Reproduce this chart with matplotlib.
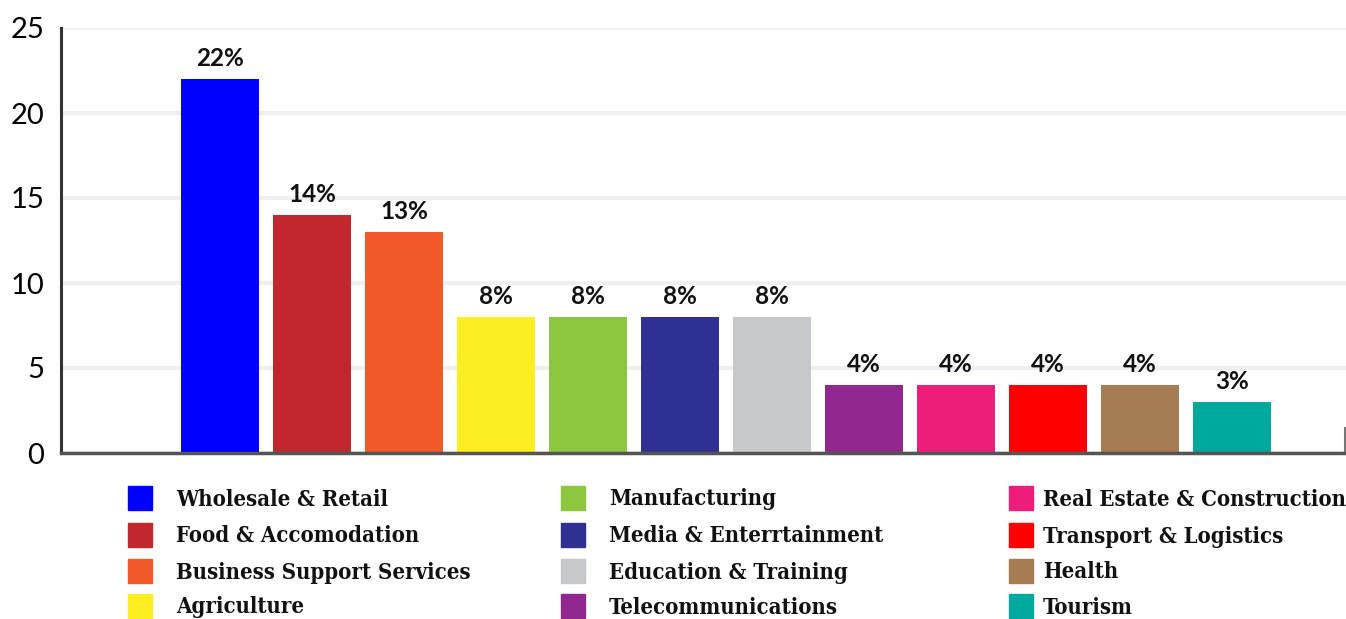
import matplotlib.pyplot as plt
from matplotlib.patches import Rectangle

sectors = ["Wholesale & Retail", "Food & Accomodation", "Business Support Services",
           "Agriculture", "Manufacturing", "Media & Enterrtainment",
           "Education & Training", "Telecommunications", "Real Estate & Construction",
           "Transport & Logistics", "Health", "Tourism"]
shares = [22, 14, 13, 8, 8, 8, 8, 4, 4, 4, 4, 3]
colors = ["#0000FF", "#C1272D", "#F15A29", "#FCEE21", "#8DC63F", "#2E3192",
          "#C7C8CA", "#92278F", "#ED1E79", "#FF0000", "#A67C52", "#00A99D"]
yticks = [0, 5, 10, 15, 20, 25]

fig = plt.figure(figsize=(13.46, 6.19), dpi=100)
ax = fig.add_axes([61 / 1346, 166 / 619, 1 - 61 / 1346, 425 / 619])

x = list(range(len(shares)))
bars = ax.bar(x, shares, width=0.848, color=colors, zorder=3)
for b, v in zip(bars, shares):
    ax.text(b.get_x() + b.get_width() / 2, v + 0.55, f"{v}%", ha="center", va="bottom",
            fontsize=17.5, fontweight="bold", family="Lato", color="#111111")

ax.set_xlim(-1.728, 12.24)
ax.set_ylim(0, 25)
ax.set_yticks(yticks)
ax.set_yticklabels([str(t) for t in yticks], family="Lato", fontsize=21)
ax.tick_params(axis="y", length=0, pad=12)
ax.set_xticks([])
ax.grid(axis="y", color="#F0F0F0", linewidth=3, zorder=0)

for side in ["top", "right"]:
    ax.spines[side].set_visible(False)
ax.spines["left"].set_color("#333333")
ax.spines["left"].set_linewidth(2.2)
ax.spines["bottom"].set_color("#555555")
ax.spines["bottom"].set_linewidth(2.5)
ax.spines["bottom"].set_zorder(4)
# short end mark at right of the baseline
ax.plot([12.23, 12.23], [0, 1.5], color="#777777", lw=1.5, clip_on=False, zorder=4)

# legend in three columns below the plot
swatch_x = [128, 561, 1009]
label_x = [176, 609, 1043]
row_y = [498, 535, 571, 606]
for i, (name, c) in enumerate(zip(sectors, colors)):
    col = i // 4
    cy = row_y[i % 4]
    fig.patches.append(Rectangle((swatch_x[col] / 1346, (619 - cy - 12) / 619), 24 / 1346, 24 / 619,
                                 transform=fig.transFigure, color=c))
    fig.text(label_x[col] / 1346, (619 - cy - 1.5) / 619, name, va="center", ha="left",
             family="DejaVu Serif", fontweight="bold", fontstretch="condensed",
             fontsize=15.8, color="#111111")

fig.savefig("out.png", dpi=100)
